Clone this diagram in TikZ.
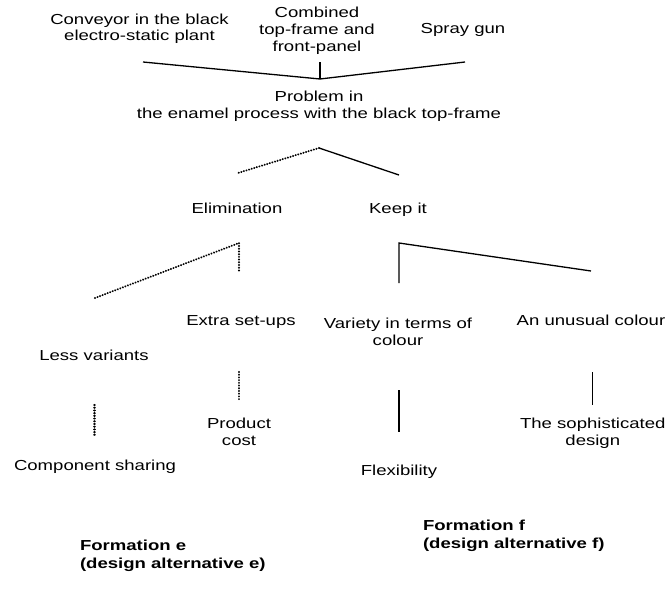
\documentclass[tikz,border=0pt]{standalone}
\usepackage{fontspec}
\setmainfont{Liberation Sans}[FakeStretch=1.28]
\begin{document}
\begin{tikzpicture}[x=1pt,y=-1pt,
  lbl/.style={inner sep=0pt, outer sep=0pt, align=center, anchor=base,
    font=\fontsize{14.5}{16.8}\selectfont},
  blbl/.style={inner sep=0pt, outer sep=0pt, align=left, anchor=base west,
    font=\fontsize{14.5}{18}\selectfont\bfseries},
  solidln/.style={line width=1.3pt, black},
  dotln/.style={line width=2.2pt, black, line cap=round, dash pattern=on 0.01pt off 2.7pt}]
\useasboundingbox (0,0) rectangle (665,605);
% texts (anchor = baseline of the last line)
\node[lbl] (conv) at (139.5,41) {Conveyor in the black\\electro-static plant};
\node[lbl] (comb) at (317,51) {Combined\\top-frame and\\front-panel};
\node[lbl] (spray) at (463,34) {Spray gun};
\node[lbl] (prob) at (319,118) {Problem in\\the enamel process with the black top-frame};
\node[lbl] (elim) at (237,213) {Elimination};
\node[lbl] (keep) at (398,213) {Keep it};
\node[lbl] (less) at (94,360) {Less variants};
\node[lbl] (extra) at (241,325) {Extra set-ups};
\node[lbl] (var) at (398,345) {Variety in terms of\\colour};
\node[lbl] (unus) at (591,325) {An unusual colour};
\node[lbl] (prod) at (239,445) {Product\\cost};
\node[lbl] (soph) at (592.8,445) {The sophisticated\\design};
\node[lbl] (comp) at (95,470) {Component sharing};
\node[lbl] (flex) at (399,475) {Flexibility};
\node[blbl] (fe) at (80,568) {Formation e\\(design alternative e)};
\node[blbl] (ff) at (423,548) {Formation f\\(design alternative f)};
% connector points
\coordinate (vL) at (143,62);
\coordinate (vM) at (320,79);
\coordinate (vT) at (320,62);
\coordinate (vR) at (465,62);
\coordinate (a1) at (319,148);
\coordinate (a1L) at (238,173);
\coordinate (a1R) at (399,175);
\coordinate (e1) at (239,243);
\coordinate (e1L) at (95,298);
\coordinate (e1D) at (239,271);
\coordinate (k1) at (399,243);
\coordinate (k1D) at (399,283);
\coordinate (k1R) at (591,271);
\coordinate (lvT) at (94.5,405);
\coordinate (lvB) at (94.5,437);
\coordinate (exT) at (239,372);
\coordinate (exB) at (239,400);
\coordinate (vaT) at (399,390);
\coordinate (vaB) at (399,432);
\coordinate (unT) at (592.5,372);
\coordinate (unB) at (592.5,405);
% connectors
\draw[solidln] (vL) -- (vM) -- (vR);
\draw[solidln] (vT) -- (vM);
\draw[dotln] (a1) -- (a1L);
\draw[solidln] (a1) -- (a1R);
\draw[dotln] (e1L) -- (e1) -- (e1D);
\draw[solidln] (k1D) -- (k1) -- (k1R);
\draw[dotln] (lvT) -- (lvB);
\draw[dotln] (exT) -- (exB);
\draw[solidln] (vaT) -- (vaB);
\draw[solidln] (unT) -- (unB);
\end{tikzpicture}
\end{document}
